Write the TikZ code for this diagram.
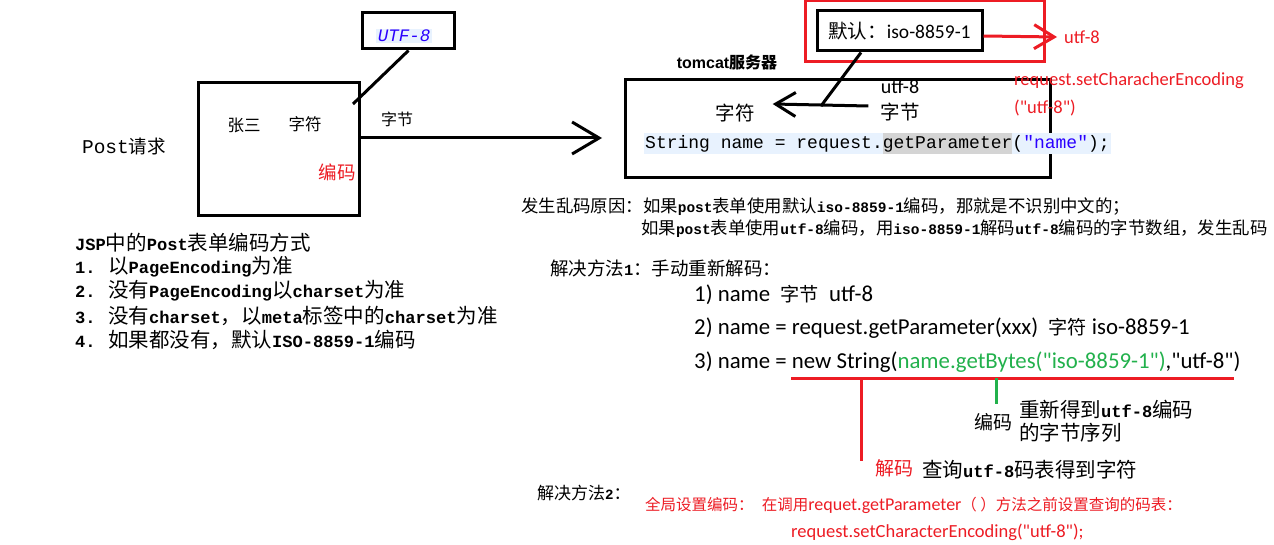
\documentclass[tikz,border=0pt]{standalone}
\usepackage{fontspec}
\setmainfont{Carlito}[Ligatures=TeXOff]
\newfontfamily\cjk{Noto Sans CJK SC}
\newfontfamily\cjksm[Scale=0.84]{Noto Sans CJK SC}
\newfontfamily\hwfam[Scale=0.833]{Liberation Mono}
\newfontfamily\codefam{Liberation Mono}
\newfontfamily\arialb{Liberation Sans}
\usetikzlibrary{arrows.meta,positioning}

\definecolor{paintred}{RGB}{237,28,36}
\definecolor{paintgreen}{RGB}{34,177,76}
\definecolor{codeblue}{RGB}{232,242,254}
\definecolor{codegray}{RGB}{212,212,212}
\definecolor{strblue}{RGB}{42,0,255}

\newcommand\sz[1]{\fontsize{#1}{#1}\selectfont}
\newcommand\hw[1]{{\hwfam\bfseries #1}}
\newcommand\zh[1]{{\cjksm #1}}

\tikzset{
  box/.style={draw,line width=3pt,inner sep=0pt},
  bar/.style={line width=3pt},
  bigbarb/.style={-{Straight Barb[length=27pt,width=32pt]}},
  smallbarb/.style={-{Straight Barb[length=20pt,width=24pt]}},
  song/.style={font=\sz{#1}\cjk},
  cal/.style={font=\sz{#1}},
}

\begin{document}
\begin{tikzpicture}[x=1pt,y=-1pt,every node/.style={inner sep=0pt}]
  \fill[white] (0,0) rectangle (1274,545);
  \useasboundingbox (0,0) rectangle (1274,545);

  % browser side
  \node[box,minimum width=92pt,minimum height=36pt] (encbox) at (408.5,31) {};
  \node[fill=codeblue,inner sep=1.5pt,text=strblue,font=\sz{17.5}\codefam\itshape] (enclabel) at (404,36) {UTF-8};
  \node[box,minimum width=161pt,minimum height=133pt] (form) at (278.5,149.5) {};
  \coordinate (hit) at (353,104);
  \draw[bar] (encbox.south) -- (hit);

  \node[song=18.5] (post)  at (124,146) {{\sz{19.5}\codefam Post}请求};
  \node[song=16.5] (zhang) at (244,125) {张三};
  \node[song=16.5] (chars) at (305,124) {字符};
  \node[song=18.5,text=paintred] (encode) at (337,172) {编码};
  \node[song=16] (bytes) at (397,119) {字节};

  \coordinate (tipA) at (602,138);
  \draw[bar,bigbarb] ([yshift=11.5pt]form.east) -- (tipA);

  % server side
  \node[box,minimum width=425pt,minimum height=98pt] (tomcat) at (837.5,129) {};
  \node[font=\sz{16}\bfseries] (tomlabel) at (727,62) {\arialb tomcat\cjk 服务器};

  \node[draw=paintred,line width=3pt,minimum width=239pt,minimum height=61pt] (redbox) at (924.5,31.5) {};
  \node[box,minimum width=165pt,minimum height=40pt,cal=19.5] (iso) at (899.5,31) {{\cjk 默认：}iso-8859-1};
  \node[cal=18.5,text=paintred] (utfred) at (1082,37) {utf-8};
  \draw[bar,paintred,smallbarb] ([yshift=-5pt]iso.east) -- ([xshift=-7pt]utfred.west);

  \node[cal=18.5,text=paintred,anchor=west] (setenc) at (1014,81) {request.setCharacherEncoding};
  \node[cal=18.5,text=paintred,anchor=west] (setarg) at (1014,108) {("utf-8")};

  \node[song=19.5] (tchars) at (735,113) {字符};
  \node[cal=20] (tutf) at (900,87) {utf-8};
  \node[song=19.5] (tbytes) at (900,112) {字节};
  \draw[bar,smallbarb] ([xshift=-12pt,yshift=6pt]tbytes.west) -- ([xshift=18pt,yshift=9pt]tchars.east);
  \coordinate (meet) at (821,106);
  \draw[bar] ([xshift=-38.5pt]iso.south) -- (meet);

  \node[anchor=west,fill=codeblue,inner xsep=1pt,font=\fontsize{18}{21}\selectfont\codefam] (code) at (644,144)
    {\strut String name = request.{\setlength\fboxsep{0pt}\colorbox{codegray}{\strut getParameter}}(\textcolor{strblue}{"name"});};

  % jsp encoding rules
  \node[song=20.5,anchor=west] (jsp)   at (75,243) {\hw{JSP}中的\hw{Post}表单编码方式};
  \node[song=20.5,anchor=west] (rule1) at (75,267) {\makebox[33pt][l]{\hw{1.}}以\hw{PageEncoding}为准};
  \node[song=20.5,anchor=west] (rule2) at (75,291) {\makebox[33pt][l]{\hw{2.}}没有\hw{PageEncoding}以\hw{charset}为准};
  \node[song=20.5,anchor=west] (rule3) at (75,316) {\makebox[33pt][l]{\hw{3.}}没有\hw{charset}，以\hw{meta}标签中的\hw{charset}为准};
  \node[song=20.5,anchor=west] (rule4) at (75,340) {\makebox[33pt][l]{\hw{4.}}如果都没有，默认\hw{ISO-8859-1}编码};

  % reasons and fixes
  \node[song=17.4,anchor=west] (why1) at (521,207) {发生乱码原因：如果\hw{post}表单使用默认\hw{iso-8859-1}编码，那就是不识别中文的；};
  \node[song=17.4,anchor=west] (why2) at (641,229) {如果\hw{post}表单使用\hw{utf-8}编码，用\hw{iso-8859-1}解码\hw{utf-8}编码的字节数组，发生乱码};
  \node[song=18.5,anchor=west] (fix1) at (550,268) {解决方法\hw{1}：手动重新解码：};
  \node[cal=22.8,anchor=west] (step1) at (694,295) {1) name\ \ \zh{字节}\ \ utf-8};
  \node[cal=22.8,anchor=west] (step2) at (694,328) {2) name = request.getParameter(xxx)\ \ \zh{字符} iso-8859-1};
  \node[cal=22.8,anchor=west] (step3) at (694,362) {3) name = new String(\textcolor{paintgreen}{name.getBytes("iso-8859-1")},"utf-8")};

  \coordinate (ulA) at (791,378);
  \coordinate (ulB) at (1234,378);
  \coordinate (decTop) at (861,378);
  \coordinate (encTop) at (996,378);
  \draw[bar,paintred] (ulA) -- (ulB);

  \node[song=19] (enc2) at (993,422) {编码};
  \node[song=20.5,anchor=west] (regain) at (1019,410) {重新得到\hw{utf-8}编码};
  \node[song=20.5,anchor=west] (seq) at (1019,433) {的字节序列};
  \draw[bar,paintgreen,shorten >=9pt] (encTop) -- (encTop |- enc2.north);

  \node[song=19,text=paintred] (dec) at (894,468) {解码};
  \node[song=20.5,anchor=west] (lookup) at (922,470) {查询\hw{utf-8}码表得到字符};
  \draw[bar,paintred,shorten >=7pt] (decTop) -- (decTop |- dec.center);

  \node[song=17,anchor=west] (fix2) at (537,493) {解决方法\hw{2}：};
  \node[cal=18,text=paintred,anchor=west] (glob) at (645,505) {{\cjk\sz{15.5}全局设置编码：}\ \ {\cjk\sz{15.5}在调用}requet.getParameter{\cjk\sz{15.5}（\ ）方法之前设置查询的码表：}};
  \node[cal=18.5,text=paintred,anchor=west] (setall) at (791,532) {request.setCharacterEncoding("utf-8");};
\end{tikzpicture}
\end{document}
